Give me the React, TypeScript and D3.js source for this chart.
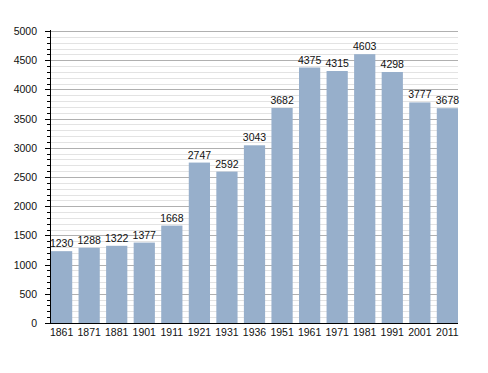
import React from "react";
import * as d3 from "d3";

const years = ["1861", "1871", "1881", "1901", "1911", "1921", "1931", "1936", "1951", "1961", "1971", "1981", "1991", "2001", "2011"];
const population = [1230, 1288, 1322, 1377, 1668, 2747, 2592, 3043, 3682, 4375, 4315, 4603, 4298, 3777, 3678];
const yMajorTicks = [0, 500, 1000, 1500, 2000, 2500, 3000, 3500, 4000, 4500, 5000];

export default function App() {
    const width = 488;
    const height = 373;
    const left = 51;
    const right = 458;
    const top = 31;
    const bottom = 323;

    const xScale = d3.scaleBand<string>().domain(years).range([left, right]).paddingInner(0.23).paddingOuter(0);
    const yScale = d3.scaleLinear().domain([0, 5000]).range([bottom, top]);

    // minor ticks every 100
    const minorTicks = d3.range(0, 5001, 100).filter(v => v % 500 !== 0);
    const font = "'Liberation Sans', Arial, sans-serif";
    const fs = 10.5;

    return (
        <svg width={width} height={height} style={{ position: "absolute", left: 0, top: 0 }}>
            <rect width={width} height={height} fill="#fff" />
            {/* minor grid */}
            {minorTicks.map(v => (
                <line key={"m" + v} x1={left} x2={right} y1={Math.round(yScale(v)) + 0.5} y2={Math.round(yScale(v)) + 0.5} stroke="#e3e3e3" />
            ))}
            {/* major grid */}
            {yMajorTicks.map(v => (
                <line key={"g" + v} x1={left} x2={right} y1={Math.round(yScale(v)) + 0.5} y2={Math.round(yScale(v)) + 0.5} stroke="#b0b0b0" />
            ))}
            {/* bars */}
            {population.map((p, i) => (
                <rect key={years[i]} x={xScale(years[i])} y={yScale(p)} width={xScale.bandwidth()} height={bottom - yScale(p)} fill="#97afcb" />
            ))}
            {/* value labels */}
            {population.map((p, i) => (
                <text key={"v" + years[i]} x={(xScale(years[i]) as number) + xScale.bandwidth() / 2} y={yScale(p) - 4} textAnchor="middle" fontFamily={font} fontSize={fs} fill="#111">
                    {p}
                </text>
            ))}
            {/* y axis */}
            <line x1={left - 0.5} x2={left - 0.5} y1={top - 1} y2={bottom + 1} stroke="#000" />
            {minorTicks.map(v => (
                <line key={"mt" + v} x1={left - 4} x2={left} y1={Math.round(yScale(v)) + 0.5} y2={Math.round(yScale(v)) + 0.5} stroke="#000" />
            ))}
            {yMajorTicks.map(v => (
                <g key={"yt" + v}>
                    <line x1={left - 6} x2={left} y1={Math.round(yScale(v)) + 0.5} y2={Math.round(yScale(v)) + 0.5} stroke="#000" />
                    <text x={left - 14} y={yScale(v) + 4} textAnchor="end" fontFamily={font} fontSize={fs} fill="#111">
                        {v}
                    </text>
                </g>
            ))}
            {/* x axis */}
            <line x1={left - 1} x2={right} y1={bottom + 0.5} y2={bottom + 0.5} stroke="#000" />
            {years.map(y => (
                <text key={"x" + y} x={(xScale(y) as number) + xScale.bandwidth() / 2} y={bottom + 12.5} textAnchor="middle" fontFamily={font} fontSize={fs} fill="#111">
                    {y}
                </text>
            ))}
        </svg>
    );
}
